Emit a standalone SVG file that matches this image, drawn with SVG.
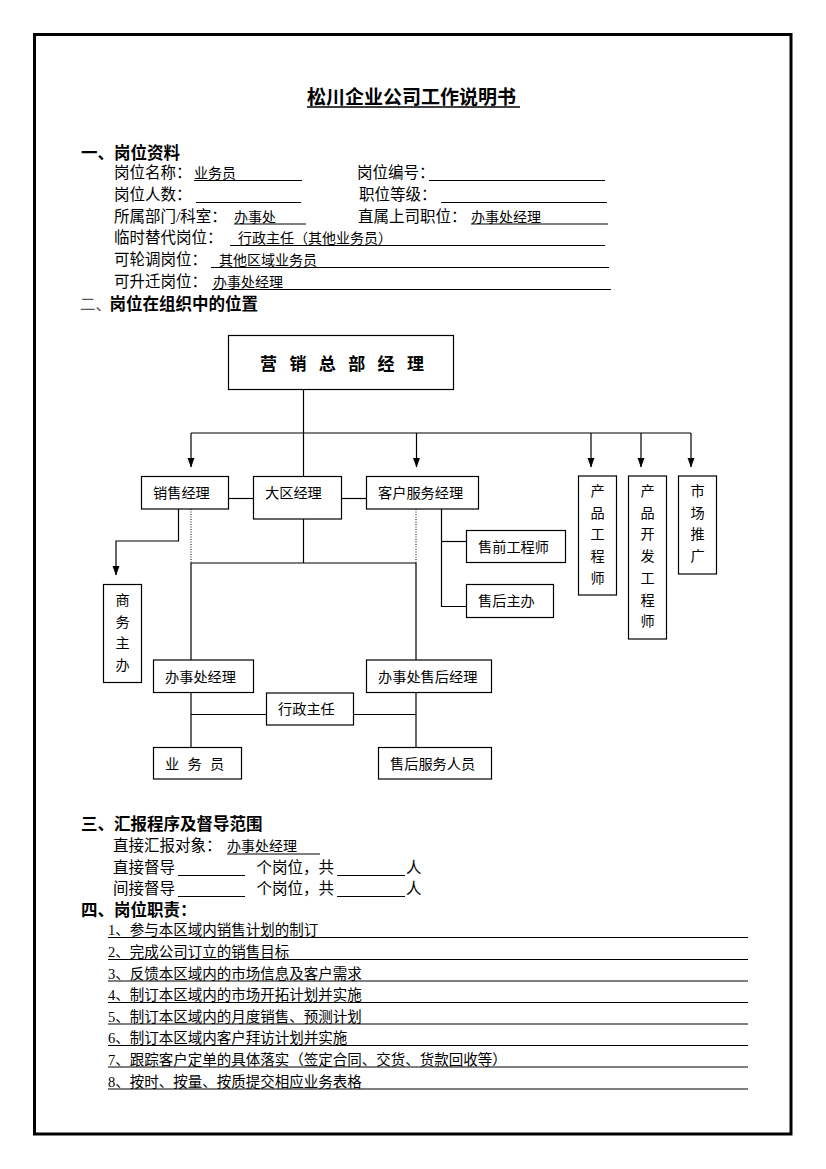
<svg xmlns="http://www.w3.org/2000/svg" width="826" height="1169" viewBox="0 0 826 1169">
<style>
.t{font-family:"Liberation Serif","Noto Sans CJK SC",sans-serif;fill:#000;font-size:15.5px}
.v{font-family:"Liberation Serif","Noto Sans CJK SC",sans-serif;fill:#000;font-size:14px}
.i{font-family:"Liberation Serif","Noto Sans CJK SC",sans-serif;fill:#000;font-size:14.5px}
.h{font-family:"Noto Sans CJK SC",sans-serif;font-weight:bold;fill:#000;font-size:16.5px}
.hr{font-family:"Noto Sans CJK SC",sans-serif;fill:#555;font-size:15.5px}
.ul{stroke:#000;stroke-width:1;fill:none}
.b{fill:#fff;stroke:#000;stroke-width:1.2}
.n{font-family:"Liberation Serif","Noto Sans CJK SC",sans-serif;fill:#000;font-size:14.2px}
.c{fill:none;stroke:#000;stroke-width:1.2}
.d{fill:none;stroke:#000;stroke-width:1;stroke-dasharray:1 1.5}
</style>
<defs>
<marker id="ah" markerUnits="userSpaceOnUse" markerWidth="8" markerHeight="10" refX="4" refY="9" orient="0" viewBox="0 0 8 10">
<path d="M0.5,0 L7.5,0 L4,9.5 Z" fill="#000"/>
</marker>
</defs>
<rect x="34.5" y="34.5" width="756.5" height="1099.5" fill="none" stroke="#000" stroke-width="3"/>

<g id="title">
<text x="307" y="104" class="h" style="font-size:19px">松川企业公司工作说明书</text>
<line x1="307" y1="107" x2="520" y2="107" stroke="#000" stroke-width="1.3"/>
</g>

<g id="section1">
<text x="81" y="159" class="h">一、岗位资料</text>
<text x="114" y="178" class="t">岗位名称：</text>
<text x="194" y="178" class="v">业务员</text>
<line x1="194" y1="180.5" x2="302" y2="180.5" class="ul"/>
<text x="357" y="178" class="t">岗位编号：</text>
<line x1="429" y1="180.5" x2="605" y2="180.5" class="ul"/>
<text x="114" y="200" class="t">岗位人数：</text>
<line x1="196" y1="202.5" x2="301" y2="202.5" class="ul"/>
<text x="359" y="200" class="t">职位等级：</text>
<line x1="441" y1="202.5" x2="607" y2="202.5" class="ul"/>
<text x="114" y="221.5" class="t">所属部门/科室：</text>
<text x="234" y="221.5" class="v">办事处</text>
<line x1="234" y1="224" x2="306" y2="224" class="ul"/>
<text x="358" y="221.5" class="t">直属上司职位：</text>
<text x="471" y="221.5" class="v">办事处经理</text>
<line x1="471" y1="224" x2="608" y2="224" class="ul"/>
<text x="114" y="243" class="t">临时替代岗位：</text>
<text x="238" y="243" class="v">行政主任（其他业务员）</text>
<line x1="230" y1="245.5" x2="605" y2="245.5" class="ul"/>
<text x="114" y="265" class="t">可轮调岗位：</text>
<text x="219" y="265" class="v">其他区域业务员</text>
<line x1="211" y1="267.5" x2="609" y2="267.5" class="ul"/>
<text x="114" y="287" class="t">可升迁岗位：</text>
<text x="213" y="287" class="v">办事处经理</text>
<line x1="212" y1="289.5" x2="611" y2="289.5" class="ul"/>
</g>

<g id="section2-heading">
<text x="80" y="309.5" class="hr">二、</text>
<text x="109.5" y="309.5" class="h">岗位在组织中的位置</text>
</g>

<g id="connectors">
<path class="c" d="M303.5,389.5 V476.7"/>
<path class="c" d="M191,433 H691"/>
<path class="c" d="M191,433 V467" marker-end="url(#ah)"/>
<path class="c" d="M416.5,433 V467" marker-end="url(#ah)"/>
<path class="c" d="M591,433 V467" marker-end="url(#ah)"/>
<path class="c" d="M641,433 V467" marker-end="url(#ah)"/>
<path class="c" d="M691,433 V467" marker-end="url(#ah)"/>
<path class="c" d="M228.5,498.5 H253.5"/>
<path class="c" d="M341.5,498.5 H366.5"/>
<path class="c" d="M178.5,509 V541 H116 V575" marker-end="url(#ah)"/>
<path class="d" d="M191,509 V563"/>
<path class="d" d="M416,509 V563"/>
<path class="c" d="M303.5,519 V563"/>
<path class="c" d="M191,660 V563 H416 V660"/>
<path class="c" d="M441.5,509 V606.5 H466.5"/>
<path class="c" d="M441.5,541.5 H466.5"/>
<path class="c" d="M191,692.5 V747.5"/>
<path class="c" d="M416,692.5 V747.5"/>
<path class="c" d="M191,714.5 H266.5"/>
<path class="c" d="M353.5,714.5 H416"/>
</g>

<g id="node-top">
<rect class="b" x="228.5" y="335.5" width="225" height="54"/>
<text class="h" style="font-size:17px" y="369.5" x="260 289.4 318.8 348.2 377.6 407">营销总部经理</text>
</g>
<g id="node-sales-mgr">
<rect class="b" x="141.5" y="476.5" width="87" height="32.5"/>
<text class="n" x="153" y="498">销售经理</text>
</g>
<g id="node-region-mgr">
<rect class="b" x="253.5" y="476.5" width="88" height="42.5"/>
<text class="n" x="265" y="498">大区经理</text>
</g>
<g id="node-cs-mgr">
<rect class="b" x="366.5" y="476.5" width="112" height="32.5"/>
<text class="n" x="378" y="498">客户服务经理</text>
</g>
<g id="node-product-eng">
<rect class="b" x="578.5" y="476" width="38" height="119"/>
<text class="n" text-anchor="middle" x="597.5" y="496"><tspan x="597.5">产</tspan><tspan x="597.5" dy="21.7">品</tspan><tspan x="597.5" dy="21.7">工</tspan><tspan x="597.5" dy="21.7">程</tspan><tspan x="597.5" dy="21.7">师</tspan></text>
</g>
<g id="node-product-dev">
<rect class="b" x="628.5" y="476" width="38" height="163"/>
<text class="n" text-anchor="middle" x="647.5" y="496"><tspan x="647.5">产</tspan><tspan x="647.5" dy="21.7">品</tspan><tspan x="647.5" dy="21.7">开</tspan><tspan x="647.5" dy="21.7">发</tspan><tspan x="647.5" dy="21.7">工</tspan><tspan x="647.5" dy="21.7">程</tspan><tspan x="647.5" dy="21.7">师</tspan></text>
</g>
<g id="node-marketing">
<rect class="b" x="678.5" y="476" width="38" height="98"/>
<text class="n" text-anchor="middle" x="697.5" y="496"><tspan x="697.5">市</tspan><tspan x="697.5" dy="21.7">场</tspan><tspan x="697.5" dy="21.7">推</tspan><tspan x="697.5" dy="21.7">广</tspan></text>
</g>
<g id="node-business">
<rect class="b" x="103.5" y="584.5" width="38" height="98"/>
<text class="n" text-anchor="middle" x="122.5" y="605"><tspan x="122.5">商</tspan><tspan x="122.5" dy="21.7">务</tspan><tspan x="122.5" dy="21.7">主</tspan><tspan x="122.5" dy="21.7">办</tspan></text>
</g>
<g id="node-presales">
<rect class="b" x="466.5" y="530.5" width="99" height="32"/>
<text class="n" x="478" y="551.5">售前工程师</text>
</g>
<g id="node-aftersales-lead">
<rect class="b" x="466.5" y="584.5" width="87" height="33"/>
<text class="n" x="478" y="605.5">售后主办</text>
</g>
<g id="node-office-mgr">
<rect class="b" x="153.5" y="660" width="100" height="32.5"/>
<text class="n" x="165" y="681.5">办事处经理</text>
</g>
<g id="node-office-as-mgr">
<rect class="b" x="366.5" y="660" width="125" height="32.5"/>
<text class="n" x="378" y="681.5">办事处售后经理</text>
</g>
<g id="node-admin">
<rect class="b" x="266.5" y="693" width="87" height="32"/>
<text class="n" x="278" y="714">行政主任</text>
</g>
<g id="node-salesman">
<rect class="b" x="153.5" y="747.5" width="88" height="31.5"/>
<text class="n" y="769" x="165 187.5 210">业务员</text>
</g>
<g id="node-as-staff">
<rect class="b" x="378.5" y="747.5" width="113" height="31.5"/>
<text class="n" x="390" y="769">售后服务人员</text>
</g>

<g id="section3">
<text x="81" y="830" class="h">三、汇报程序及督导范围</text>
<text x="113" y="851" class="t">直接汇报对象：</text>
<text x="227" y="851" class="v">办事处经理</text>
<line x1="227" y1="854" x2="320" y2="854" class="ul"/>
<text x="113" y="873" class="t">直接督导</text>
<line x1="178" y1="875.5" x2="245" y2="875.5" class="ul"/>
<text x="256.5" y="873" class="t">个岗位，共</text>
<line x1="337" y1="875.5" x2="405" y2="875.5" class="ul"/>
<text x="406" y="873" class="t">人</text>
<text x="113" y="894" class="t">间接督导</text>
<line x1="178" y1="896.5" x2="245" y2="896.5" class="ul"/>
<text x="256.5" y="894" class="t">个岗位，共</text>
<line x1="337" y1="896.5" x2="405" y2="896.5" class="ul"/>
<text x="406" y="894" class="t">人</text>
</g>

<g id="section4">
<text x="81" y="916" class="h">四、岗位职责：</text>
<text x="108" y="935" class="i">1、参与本区域内销售计划的制订</text>
<line x1="108" y1="937.5" x2="748" y2="937.5" class="ul"/>
<text x="108" y="957" class="i">2、完成公司订立的销售目标</text>
<line x1="108" y1="959.5" x2="748" y2="959.5" class="ul"/>
<text x="108" y="978.5" class="i">3、反馈本区域内的市场信息及客户需求</text>
<line x1="108" y1="981" x2="748" y2="981" class="ul"/>
<text x="108" y="1000" class="i">4、制订本区域内的市场开拓计划并实施</text>
<line x1="108" y1="1002.5" x2="748" y2="1002.5" class="ul"/>
<text x="108" y="1021.5" class="i">5、制订本区域内的月度销售、预测计划</text>
<line x1="108" y1="1024" x2="748" y2="1024" class="ul"/>
<text x="108" y="1043" class="i">6、制订本区域内客户拜访计划并实施</text>
<line x1="108" y1="1045.5" x2="748" y2="1045.5" class="ul"/>
<text x="108" y="1064.5" class="i">7、跟踪客户定单的具体落实（签定合同、交货、货款回收等）</text>
<line x1="108" y1="1067" x2="748" y2="1067" class="ul"/>
<text x="108" y="1086.5" class="i">8、按时、按量、按质提交相应业务表格</text>
<line x1="108" y1="1089" x2="748" y2="1089" class="ul"/>
</g>
</svg>
